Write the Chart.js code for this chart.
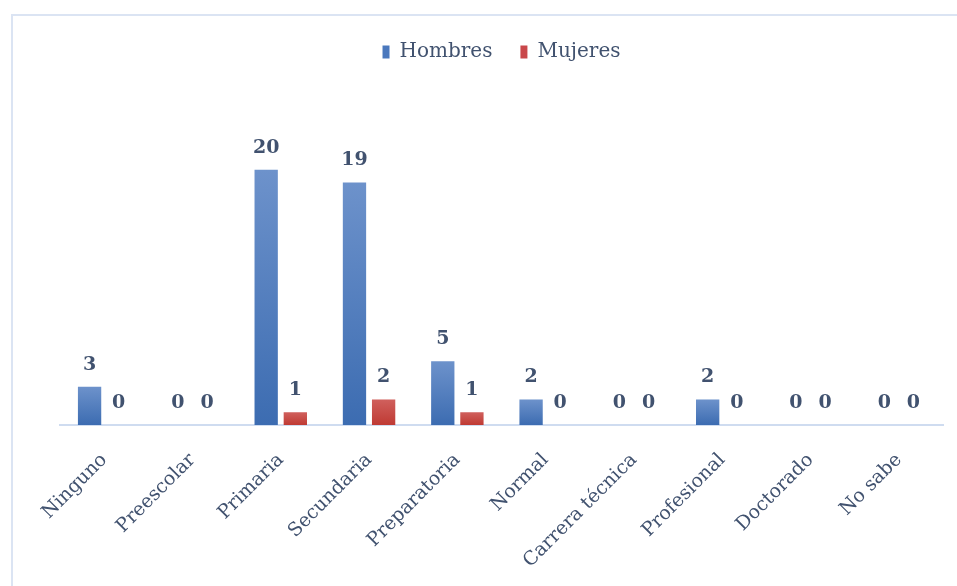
<!DOCTYPE html>
<html>
<head>
<meta charset="utf-8">
<script src="https://cdn.jsdelivr.net/npm/chart.js@4.4.0/dist/chart.umd.min.js"></script>
<style>
  html, body { margin: 0; padding: 0; background: #ffffff; }
  body { width: 957px; height: 586px; position: relative; overflow: hidden; }
  #frame { position: absolute; left: 11px; top: 14px; width: 960px; height: 600px;
           border-top: 2px solid #dbe4f3; border-left: 2px solid #dbe4f3; }
  #wrap { position: absolute; left: 0; top: 0; width: 957px; height: 586px; }
</style>
</head>
<body>
<div id="frame"></div>
<div id="wrap"><canvas id="c"></canvas></div>
<script>
const categories = ["Ninguno", "Preescolar", "Primaria", "Secundaria", "Preparatoria", "Normal", "Carrera técnica", "Profesional", "Doctorado", "No sabe"];
const hombres = [3, 0, 20, 19, 5, 2, 0, 2, 0, 0];
const mujeres = [0, 0, 1, 2, 1, 0, 0, 0, 0, 0];
const seriesNames = ["Hombres", "Mujeres"];

const textColor = '#41526f';
const fontFam = '"DejaVu Serif", "Liberation Serif", serif';

function barGradient(top, bottom) {
  return function(ctx) {
    const chart = ctx.chart;
    if (!chart.chartArea || ctx.type !== 'data') return bottom;
    const ys = chart.scales.y;
    const v = ctx.raw;
    const y1 = ys.getPixelForValue(v);
    const y0 = ys.getPixelForValue(0);
    if (Math.abs(y0 - y1) < 1) return bottom;
    const g = chart.ctx.createLinearGradient(0, y1, 0, y0);
    g.addColorStop(0, top);
    g.addColorStop(1, bottom);
    return g;
  };
}

const valueLabels = {
  id: 'valueLabels',
  afterDatasetsDraw(chart) {
    const ctx = chart.ctx;
    ctx.save();
    ctx.fillStyle = textColor;
    ctx.font = 'bold 19px ' + fontFam;
    ctx.textAlign = 'center';
    ctx.textBaseline = 'middle';
    chart.data.datasets.forEach((ds, i) => {
      const meta = chart.getDatasetMeta(i);
      meta.data.forEach((bar, j) => {
        ctx.fillText(String(ds.data[j]), bar.x, bar.y - 22);
      });
    });
    ctx.restore();
  }
};

const legendSpacer = {
  id: 'legendSpacer',
  beforeInit(chart) {
    const origFit = chart.legend.fit;
    chart.legend.fit = function() {
      origFit.bind(this)();
      this.height += 34;
    };
  }
};

new Chart(document.getElementById('c'), {
  type: 'bar',
  data: {
    labels: categories,
    datasets: [
      { label: seriesNames[0], data: hombres,
        backgroundColor: barGradient('#6d92cb', '#3c6cb1') },
      { label: seriesNames[1], data: mujeres,
        backgroundColor: barGradient('#d0605d', '#bf3a33') }
    ]
  },
  options: {
    responsive: true,
    maintainAspectRatio: false,
    animation: false,
    devicePixelRatio: 1,
    layout: { padding: { left: 60, right: 14, top: 14, bottom: 0 } },
    datasets: { bar: { categoryPercentage: 0.66, barPercentage: 0.8 } },
    plugins: {
      legend: {
        position: 'top',
        labels: {
          boxWidth: 7, boxHeight: 13,
          color: textColor,
          font: { family: fontFam, size: 20 },
          padding: 28,
          generateLabels(chart) {
            return chart.data.datasets.map((ds, i) => ({
              text: ds.label,
              fillStyle: i === 0 ? '#4a78bd' : '#c9474a',
              strokeStyle: 'rgba(0,0,0,0)',
              lineWidth: 0,
              fontColor: textColor,
              datasetIndex: i
            }));
          }
        }
      },
      tooltip: { enabled: false }
    },
    scales: {
      x: {
        grid: { display: false, drawTicks: false },
        border: { display: true, color: '#cfdcf0', width: 2 },
        ticks: {
          color: textColor,
          font: { family: fontFam, size: 19 },
          minRotation: 45, maxRotation: 45,
          padding: 24,
          autoSkip: false
        },
        afterFit(scale) { scale.height = 161; }
      },
      y: {
        display: false,
        min: 0, max: 25
      }
    }
  },
  plugins: [valueLabels, legendSpacer]
});
</script>
</body>
</html>
